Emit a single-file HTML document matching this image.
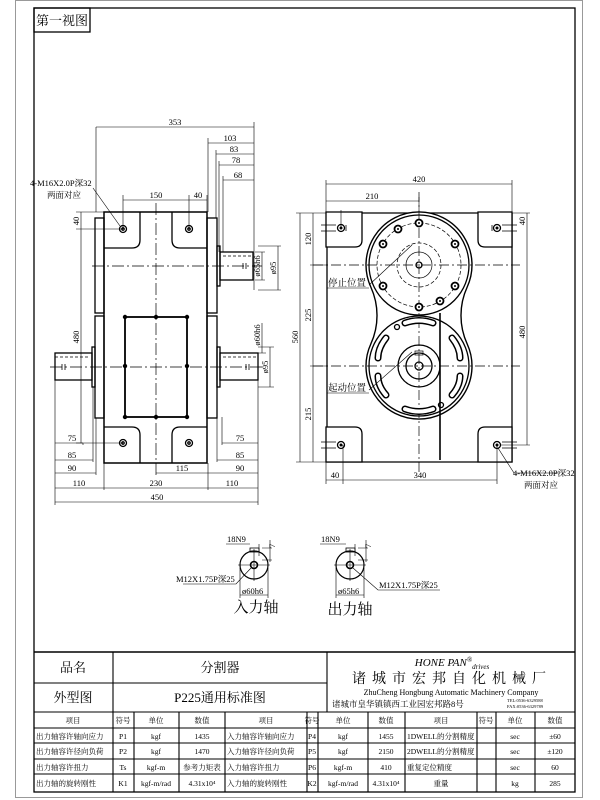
<!DOCTYPE html>
<html><head><meta charset="utf-8"><style>
html,body{margin:0;padding:0;background:#fff;}
svg{display:block;}
text{font-family:"Liberation Serif","Noto Serif CJK SC",serif;fill:#000;}
</style></head><body>
<svg width="600" height="800" viewBox="0 0 600 800" xmlns="http://www.w3.org/2000/svg">
<rect x="0" y="0" width="600" height="800" fill="#fff"/>
<rect x="15.5" y="0.5" width="567" height="797" fill="none" stroke="#999" stroke-width="1"/>
<rect x="34" y="8" width="541" height="784" fill="none" stroke="#000" stroke-width="1.3"/>
<rect x="34" y="8" width="56" height="24" fill="none" stroke="#000" stroke-width="1.3"/>
<text x="62" y="25" font-size="13" text-anchor="middle">第一视图</text>

<g stroke="#000" fill="none" stroke-width="1.3">
<rect x="104" y="212" width="103" height="251" stroke-width="1.5"/>
<rect x="95" y="218" width="9" height="95"/><rect x="95" y="316" width="9" height="102"/>
<rect x="207" y="218" width="10" height="95"/><rect x="207" y="316" width="10" height="102"/>
<path d="M104 248 H132 Q140 248 140 240 V212"/><path d="M207 248 H180 Q172 248 172 240 V212"/>
<path d="M104 427 H132 Q140 427 140 435 V463"/><path d="M207 427 H180 Q172 427 172 435 V463"/>
<rect x="125" y="317" width="62" height="100" stroke-width="1.8"/>
<rect x="217" y="246" width="3" height="40"/><rect x="220" y="252" width="33" height="28"/>
<rect x="217" y="347" width="3" height="40"/><rect x="220" y="353" width="38" height="27"/>
<rect x="92" y="347" width="3" height="40"/><rect x="55" y="353" width="37" height="27"/>
<path d="M223 256 H253 M223 357 H258 M55 357 H88" stroke-dasharray="3 2" stroke-width="0.7"/>
<path d="M156 203 V475 M92 266 H262 M50 367 H262" stroke-dasharray="12 3 2 3" stroke-width="0.7"/>
<circle cx="123" cy="229" r="3.5"/><circle cx="189" cy="229" r="3.5"/><circle cx="123" cy="443" r="3.5"/><circle cx="189" cy="443" r="3.5"/>
<circle cx="123" cy="229" r="1.2"/><circle cx="189" cy="229" r="1.2"/><circle cx="123" cy="443" r="1.2"/><circle cx="189" cy="443" r="1.2"/>
<path d="M243 263 v6 M246 263 v6 M62 364 v6 M65 364 v6 M246 364 v6 M249 364 v6" stroke-width="0.8"/>
</g>
<g fill="#000">
<circle cx="125" cy="317" r="2.2"/><circle cx="156" cy="317" r="2.2"/><circle cx="187" cy="317" r="2.2"/>
<circle cx="125" cy="366" r="2.2"/><circle cx="187" cy="366" r="2.2"/>
<circle cx="125" cy="417" r="2.2"/><circle cx="156" cy="417" r="2.2"/><circle cx="187" cy="417" r="2.2"/>
</g>
<g stroke="#000" fill="none" stroke-width="0.6">
<path d="M96 127 H254 M208 143 H254 M216 154 H254 M219 165 H254 M223 180 H254"/>
<path d="M96 127 V212 M254 122 V290 M208 138 V212 M216 150 V218 M219 161 V252 M223 176 V252"/>
<path d="M123 200 H207 M123 195 V229 M189 195 V229 M207 195 V212"/>
<path d="M81 212 V443 M76 212 H104 M76 229 H123 M76 443 H123"/>
<path d="M55 443 H83 M55 460 H93 M55 473 H96 M55 488 H258 M55 502 H258 M156 473 H208 M222 443 H258 M217 460 H258 M208 473 H258"/>
<path d="M55 380 V505 M83 443 V445 M93 387 V462 M96 418 V475 M104 463 V490 M208 463 V490 M258 380 V505 M222 417 V445 M217 418 V462"/>
<path d="M262 252 V280 M255 252 H265 M255 280 H265 M278 246 V290 M258 246 H281 M258 290 H281"/>
<path d="M262 323 V353 M258 353 H266 M270 347 V387 M258 347 H274 M258 387 H274"/>
<path d="M93 188 L120 226"/>
</g>
<g font-size="8.5" text-anchor="middle">
<text x="175" y="125">353</text><text x="230" y="141">103</text><text x="234" y="152">83</text><text x="236" y="163">78</text><text x="238" y="178">68</text>
<text x="156" y="198">150</text><text x="198" y="198">40</text>
<text x="72" y="441">75</text><text x="72" y="458">85</text><text x="72" y="471">90</text><text x="79" y="486">110</text><text x="156" y="486">230</text><text x="232" y="486">110</text><text x="157" y="500">450</text><text x="182" y="471">115</text>
<text x="240" y="441">75</text><text x="240" y="458">85</text><text x="240" y="471">90</text>
<text transform="translate(79,221) rotate(-90)">40</text>
<text transform="translate(79,337) rotate(-90)">480</text>
<text transform="translate(260,266) rotate(-90)">ø65h6</text>
<text transform="translate(276,268) rotate(-90)">ø95</text>
<text transform="translate(260,335) rotate(-90)">ø60h6</text>
<text transform="translate(268,367) rotate(-90)">ø95</text>
</g>
<text x="30" y="186" font-size="8.5">4-M16X2.0P深32</text>
<text x="47" y="198" font-size="8.5">两面对应</text>

<defs><clipPath id="lc"><circle cx="419" cy="366" r="49"/></clipPath></defs>
<g stroke="#000" fill="none" stroke-width="1.3">
<path d="M327 213 H512 M327 213 V462 H512 V213"/>
<path d="M326 212 H362 V240 Q362 247 355 247 H326 Z" fill="#fff"/>
<path d="M512 212 H478 V240 Q478 247 485 247 H512 Z" fill="#fff"/>
<path d="M326 462 H362 V434 Q362 427 355 427 H326 Z" fill="#fff"/>
<path d="M512 462 H478 V434 Q478 427 485 427 H512 Z" fill="#fff"/>
<path d="M370.8 287 A53 53 0 1 1 467.2 287 A68.4 68.4 0 0 0 467.2 344 A53 53 0 1 1 370.8 344 A68.4 68.4 0 0 0 370.8 287 Z" fill="#fff" stroke-width="1.4"/>
<circle cx="419" cy="265" r="50"/>
<circle cx="419" cy="366" r="50"/>
<path d="M440 313 V460" stroke-width="1.6"/>
<g stroke-dasharray="4 2" stroke-width="0.7"><circle cx="419" cy="265" r="42"/><circle cx="419" cy="265" r="22"/></g>
<circle cx="419" cy="265" r="13" stroke-width="0.7"/><circle cx="419" cy="265" r="3"/>
<circle cx="419" cy="366" r="21"/><circle cx="419" cy="366" r="13"/><circle cx="419" cy="366" r="4"/>
<rect x="415" y="351" width="8" height="4" stroke-width="0.7"/>
<path d="M419 192 V473 M313 265 H520 M313 366 H520" stroke-dasharray="10 3 2 3" stroke-width="0.7"/>
<g clip-path="url(#lc)" stroke-linecap="round">
<g stroke-width="7"><path d="M405 323 Q419 318 433 323"/><path d="M405 409 Q419 414 433 409"/><path d="M386 338 Q378 348 378 358"/><path d="M452 338 Q460 348 460 358"/><path d="M378 376 Q378 386 386 395"/><path d="M460 376 Q460 386 452 395"/></g>
<g stroke-width="4" stroke="#fff"><path d="M405 323 Q419 318 433 323"/><path d="M405 409 Q419 414 433 409"/><path d="M386 338 Q378 348 378 358"/><path d="M452 338 Q460 348 460 358"/><path d="M378 376 Q378 386 386 395"/><path d="M460 376 Q460 386 452 395"/></g>
</g>
<circle cx="397" cy="327" r="2.5"/><circle cx="441" cy="405" r="2.5"/>
<g fill="#fff" stroke-width="1.8">
<circle cx="419" cy="223" r="3.5"/><circle cx="419" cy="307" r="3.5"/>
<circle cx="398" cy="229" r="3.5"/><circle cx="383" cy="244" r="3.5"/><circle cx="455" cy="244" r="3.5"/>
<circle cx="383" cy="286" r="3.5"/><circle cx="455" cy="286" r="3.5"/><circle cx="440" cy="301" r="3.5"/>
</g>
<g fill="#000" stroke="none">
<circle cx="419" cy="223" r="1"/><circle cx="419" cy="307" r="1"/><circle cx="398" cy="229" r="1"/><circle cx="383" cy="244" r="1"/><circle cx="455" cy="244" r="1"/><circle cx="383" cy="286" r="1"/><circle cx="455" cy="286" r="1"/><circle cx="440" cy="301" r="1"/>
</g>
<g fill="#fff"><circle cx="341" cy="228" r="3.5"/><circle cx="497" cy="228" r="3.5"/><circle cx="341" cy="445" r="3.5"/><circle cx="497" cy="445" r="3.5"/></g>
<g fill="#000" stroke="none"><circle cx="341" cy="228" r="1.5"/><circle cx="497" cy="228" r="1.5"/><circle cx="341" cy="445" r="1.5"/><circle cx="497" cy="445" r="1.5"/></g>
<path d="M321 225 H336 M321 231 H336 M346 225 V231 M492 225 V231 M502 225 H517 M502 231 H517 M321 442 H336 M321 448 H336 M502 442 H517 M502 448 H517" stroke-width="0.8"/>
</g>
<g stroke="#000" fill="none" stroke-width="0.6">
<path d="M326 184 H512 M326 201 H419 M326 180 V212 M512 180 V212 M419 197 V210"/>
<path d="M300 213 V462 M296 213 H326 M296 462 H326 M313 213 V462 M310 265 H327 M310 366 H327"/>
<path d="M527 213 V445 M512 213 H530 M500 445 H530"/>
<path d="M326 480 H497 M326 462 V484 M343 445 V484 M497 445 V484"/>
<path d="M341 210 V228"/>
<path d="M369 285 L412 245 M327 288 H369 M369 390 L412 352 M327 393 H369"/>
<path d="M498 448 L514 473 H560"/>
</g>
<g font-size="8.5" text-anchor="middle">
<text x="419" y="182">420</text><text x="372" y="199">210</text>
<text x="335" y="478">40</text><text x="420" y="478">340</text>
<text transform="translate(298,337) rotate(-90)">560</text>
<text transform="translate(311,239) rotate(-90)">120</text>
<text transform="translate(311,315) rotate(-90)">225</text>
<text transform="translate(311,414) rotate(-90)">215</text>
<text transform="translate(525,221) rotate(-90)">40</text>
<text transform="translate(525,332) rotate(-90)">480</text>
</g>
<text x="328" y="286" font-size="9.5">停止位置</text>
<text x="328" y="391" font-size="9.5">起动位置</text>
<text x="513" y="476" font-size="8.5">4-M16X2.0P深32</text>
<text x="524" y="488" font-size="8.5">两面对应</text>

<g stroke="#000" fill="none" stroke-width="1.2">
<circle cx="254" cy="565" r="14"/><circle cx="254" cy="565" r="3.5" stroke-width="1.6"/>
<rect x="250" y="548" width="9" height="4" stroke-width="0.8"/>
<path d="M238 565 H270 M254 549 V581" stroke-width="0.6"/>
<circle cx="350" cy="565" r="14"/><circle cx="350" cy="565" r="3.5" stroke-width="1.6"/>
<rect x="346" y="548" width="9" height="4" stroke-width="0.8"/>
<path d="M334 565 H366 M350 549 V581" stroke-width="0.6"/>
<g stroke-width="0.6">
<path d="M226 544 H250 M259 544 V556 M262 548 H272 M262 560 H272 M270 540 V562"/>
<path d="M240 568 V598 M268 568 V598 M240 595 H268 M251 568 L236 584 H183"/>
<path d="M320 544 H346 M355 544 V556 M358 548 H368 M358 560 H368 M366 540 V562"/>
<path d="M336 568 V598 M364 568 V598 M336 595 H364 M353 568 L378 590 H440"/>
</g>
</g>
<g font-size="8.5">
<text x="227" y="542">18N9</text><text x="321" y="542">18N9</text>
<text transform="translate(275,548) rotate(-90)">7</text>
<text transform="translate(371,548) rotate(-90)">7</text>
<text x="176" y="582">M12X1.75P深25</text>
<text x="379" y="588">M12X1.75P深25</text>
<text x="242" y="594">ø60h6</text><text x="338" y="594">ø65h6</text>
</g>
<text x="256" y="612" font-size="15" text-anchor="middle">入力轴</text>
<text x="350" y="614" font-size="15" text-anchor="middle">出力轴</text>

<g stroke="#000" fill="none" stroke-width="1.1">
<path d="M34 652 H575" stroke-width="1.4"/>
<path d="M34 683 H327 M34 712 H575 M34 728 H575 M34 743 H575 M34 759 H575 M34 774 H575"/>
<path d="M113 652 V712 M327 652 V712"/>
<path d="M113 712 V792 M134 712 V792 M179 712 V792 M225 712 V792 M307 712 V792 M318 712 V792 M368 712 V792 M405 712 V792 M477 712 V792 M496 712 V792 M535 712 V792"/>
</g>
<g text-anchor="middle">
<text x="73" y="672" font-size="13">品名</text>
<text x="220" y="672" font-size="13">分割器</text>
<text x="73" y="702" font-size="13">外型图</text>
<text x="220" y="702" font-size="13">P225通用标准图</text>
<text x="452" y="666" font-size="11" font-style="italic" font-family="Liberation Sans, sans-serif">HONE PAN<tspan font-size="7" dy="-4">®</tspan><tspan font-size="7" dy="7">drives</tspan></text>
<text x="452" y="683" font-size="14" letter-spacing="6">诸城市宏邦自化机械厂</text>
<text x="451" y="695" font-size="8">ZhuCheng Hongbung Automatic Machinery Company</text>
</g>
<text x="332" y="707" font-size="8.5">诸城市皇华镇镇西工业园宏邦路8号</text>
<text x="507" y="702" font-size="4.5">TEL:0536-6329588</text>
<text x="507" y="708" font-size="4.5">FAX:0536-6329789</text>
<g font-size="7.5" text-anchor="middle">
<text x="73" y="723">项目</text><text x="123" y="723">符号</text><text x="156" y="723">单位</text><text x="202" y="723">数值</text><text x="266" y="723">项目</text><text x="312" y="723">符号</text><text x="343" y="723">单位</text><text x="386" y="723">数值</text><text x="441" y="723">项目</text><text x="486" y="723">符号</text><text x="515" y="723">单位</text><text x="555" y="723">数值</text>
<text x="123" y="739">P1</text><text x="156" y="739">kgf</text><text x="202" y="739">1435</text><text x="312" y="739">P4</text><text x="343" y="739">kgf</text><text x="386" y="739">1455</text><text x="515" y="739">sec</text><text x="555" y="739">±60</text>
<text x="123" y="754">P2</text><text x="156" y="754">kgf</text><text x="202" y="754">1470</text><text x="312" y="754">P5</text><text x="343" y="754">kgf</text><text x="386" y="754">2150</text><text x="515" y="754">sec</text><text x="555" y="754">±120</text>
<text x="123" y="770">Ts</text><text x="156" y="770">kgf-m</text><text x="202" y="770">参考力矩表</text><text x="312" y="770">P6</text><text x="343" y="770">kgf-m</text><text x="386" y="770">410</text><text x="515" y="770">sec</text><text x="555" y="770">60</text>
<text x="123" y="786">K1</text><text x="156" y="786">kgf-m/rad</text><text x="202" y="786">4.31x10⁴</text><text x="312" y="786">K2</text><text x="343" y="786">kgf-m/rad</text><text x="386" y="786">4.31x10⁴</text><text x="441" y="786">重量</text><text x="515" y="786">kg</text><text x="555" y="786">285</text>
</g>
<g font-size="7.5">
<text x="36" y="739">出力轴容许轴向应力</text><text x="227" y="739">入力轴容许轴向应力</text><text x="407" y="739">1DWELL的分割精度</text>
<text x="36" y="754">出力轴容许径向负荷</text><text x="227" y="754">入力轴容许径向负荷</text><text x="407" y="754">2DWELL的分割精度</text>
<text x="36" y="770">出力轴容许扭力</text><text x="227" y="770">入力轴容许扭力</text><text x="407" y="770">重复定位精度</text>
<text x="36" y="786">出力轴的旋转刚性</text><text x="227" y="786">入力轴的旋转刚性</text>
</g>
</svg>
</body></html>
